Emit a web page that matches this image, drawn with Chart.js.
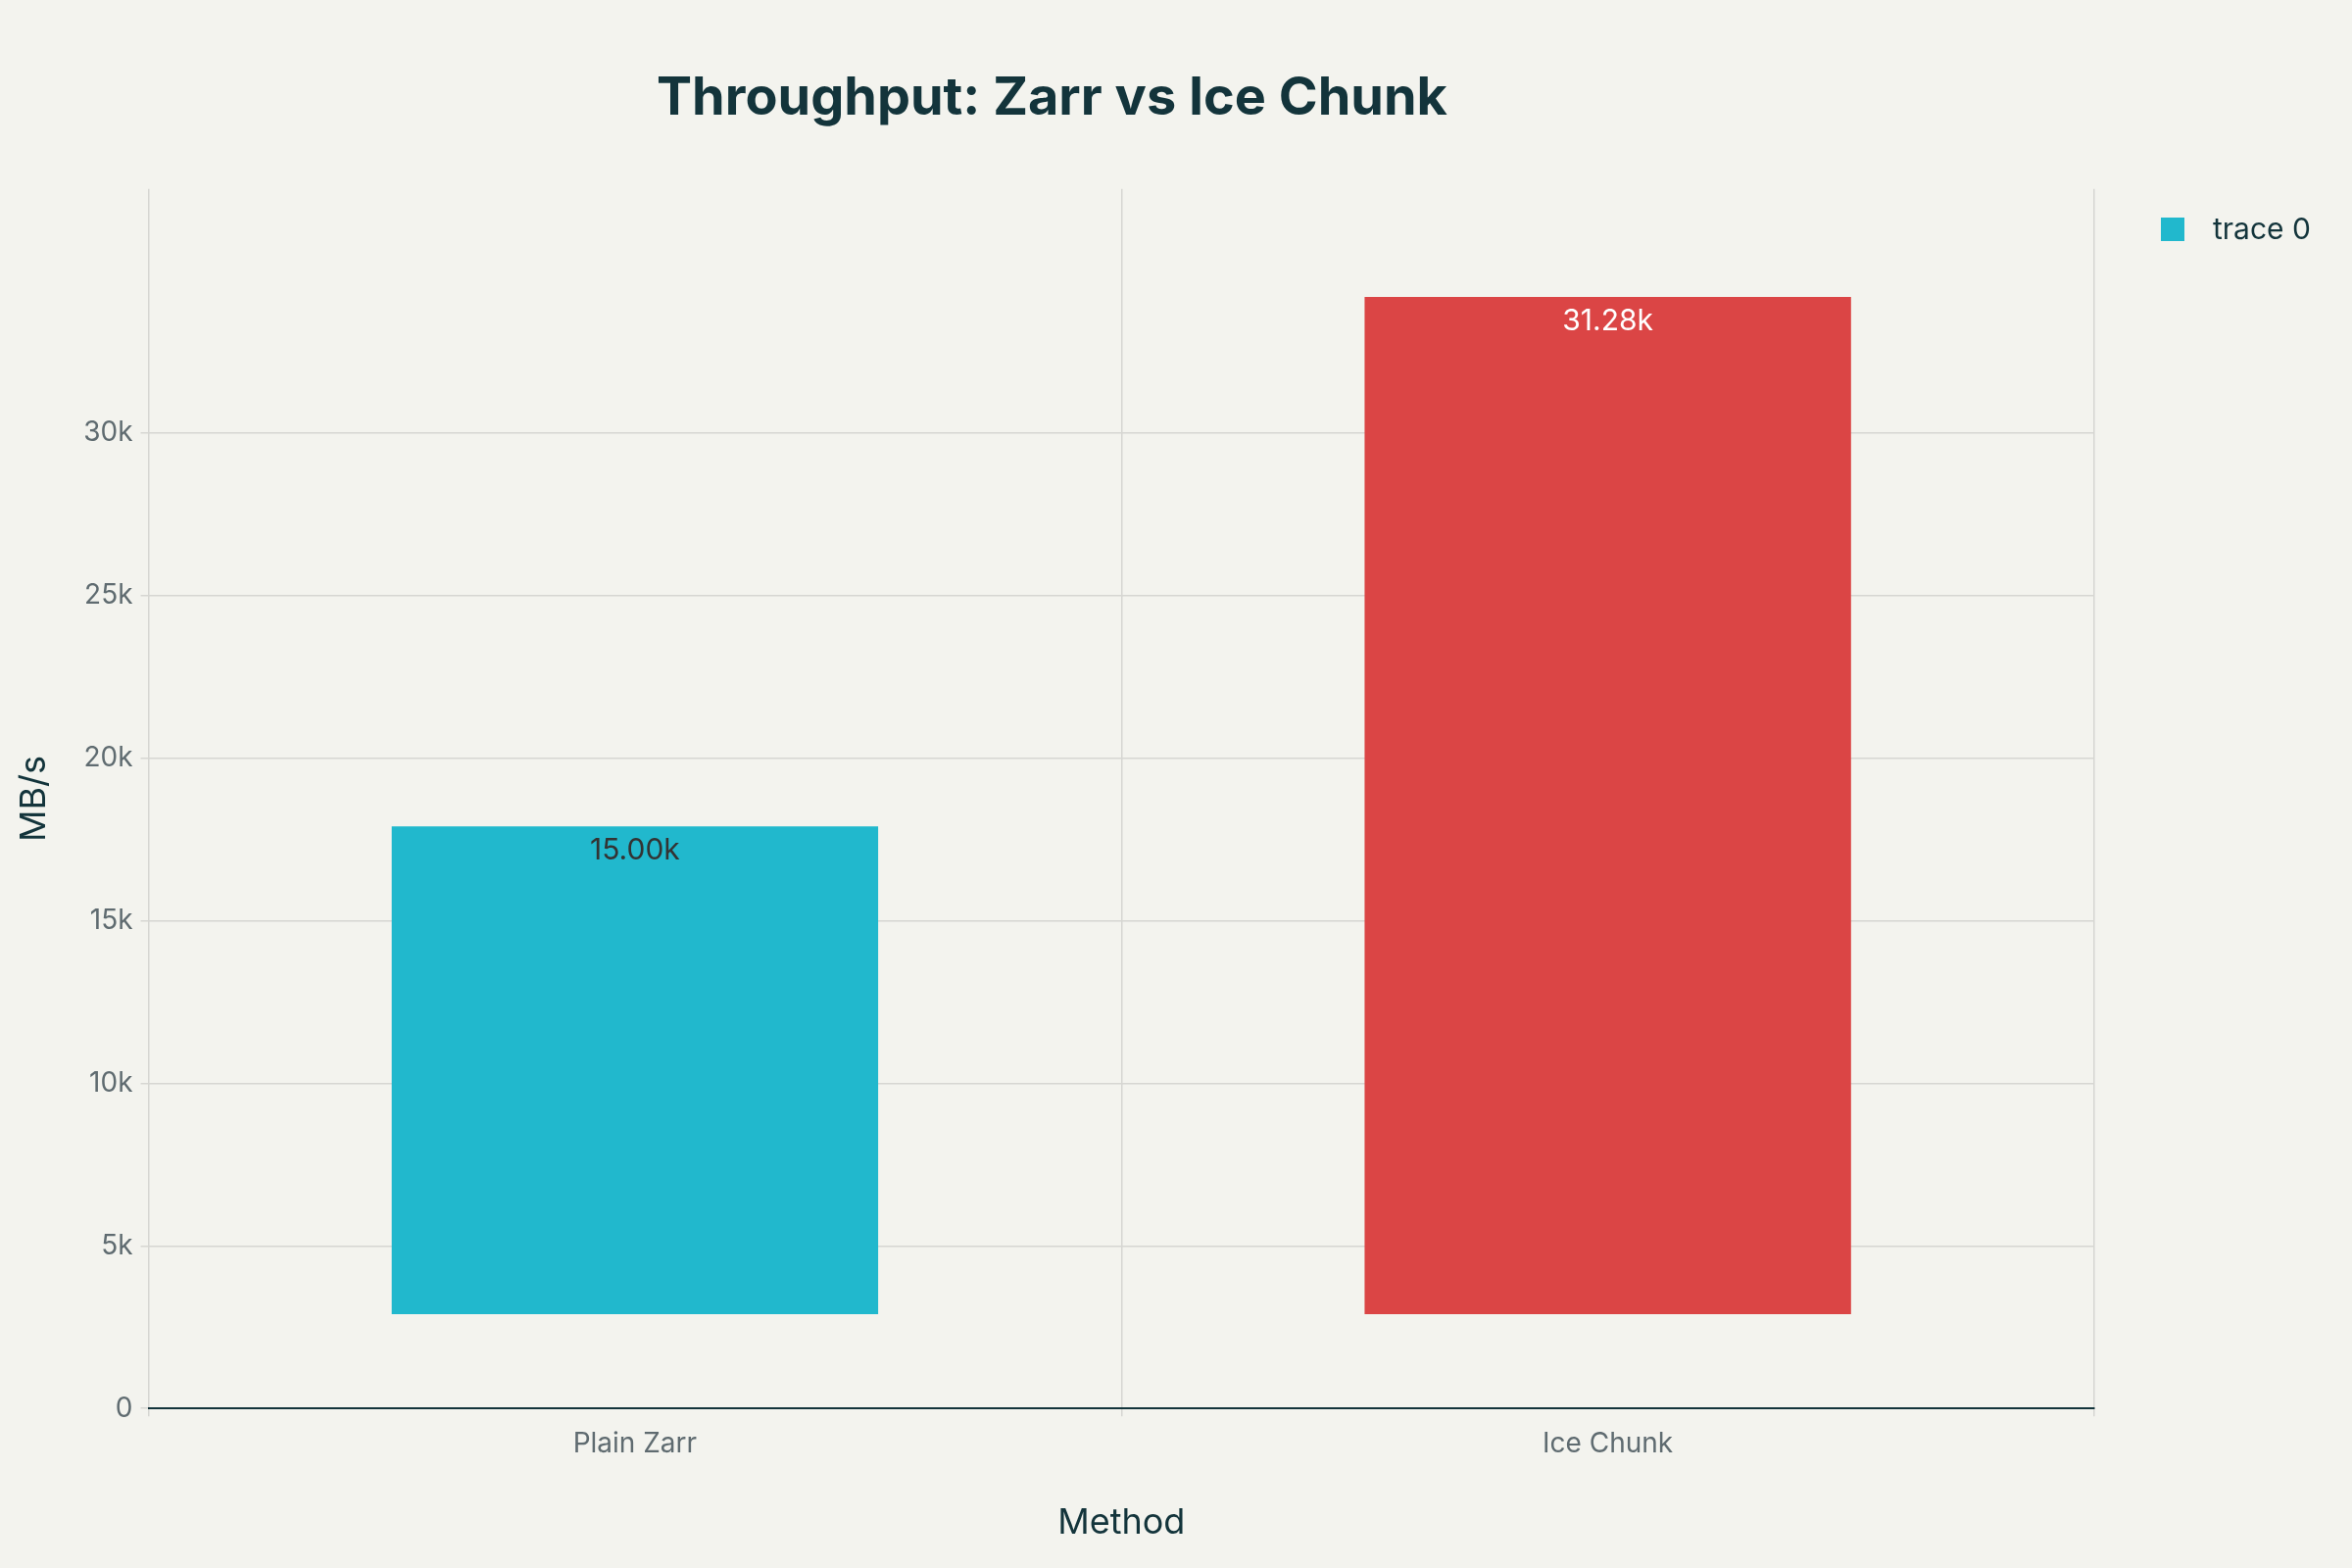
<!DOCTYPE html>
<html><head><meta charset="utf-8">
<script src="https://cdn.jsdelivr.net/npm/chart.js@4"></script>
<style>html,body{margin:0;padding:0;background:#f3f3ee}#w{width:2400px;height:1600px}</style>
</head><body><div id="w"><canvas id="c"></canvas></div>
<script>
const categories = ["Plain Zarr", "Ice Chunk"];
const barBase = [2.9, 2.9];
const barTop = [17.9, 34.18];
const valueLabels = ["15.00k", "31.28k"];
const barColors = ["#21b8cd", "#db4545"];
const labelColors = ["#333333", "#ffffff"];
const yTicks = [0, 5, 10, 15, 20, 25, 30];

const F = "Inter, 'Open Sans', sans-serif";
const labelPlugin = {
  id: 'lbl',
  afterDatasetsDraw(chart) {
    const ctx = chart.ctx, meta = chart.getDatasetMeta(0);
    ctx.save();
    ctx.font = "30px " + F; ctx.textAlign = "center"; ctx.textBaseline = "top";
    meta.data.forEach((b, i) => { ctx.fillStyle = labelColors[i]; ctx.fillText(valueLabels[i], b.x, b.y + 10); });
    // legend
    ctx.fillStyle = barColors[0]; ctx.fillRect(2205, 222, 24, 24);
    ctx.fillStyle = "#13343b"; ctx.textAlign = "left"; ctx.textBaseline = "middle";
    ctx.font = "30px " + F; ctx.fillText("trace 0", 2258, 235);
    ctx.restore();
  }
};
new Chart(document.getElementById('c'), {
  type: 'bar',
  data: { labels: categories, datasets: [{ data: barBase.map((b, i) => [b, barTop[i]]), backgroundColor: barColors, barPercentage: 0.5, categoryPercentage: 1 }] },
  options: {
    responsive: true, maintainAspectRatio: false, animation: false,
    layout: { padding: { left: 10, right: 263, top: 0, bottom: 20 } },
    plugins: {
      legend: { display: false }, tooltip: { enabled: false },
      title: { display: true, text: "Throughput: Zarr vs Ice Chunk", color: "#13343b", font: { family: F, size: 54, weight: 'bold' }, padding: { top: 68, bottom: 60 } }
    },
    scales: {
      x: { grid: { color: "#d6d6d2", lineWidth: 1.5 }, border: { display: true, color: "#13343b", width: 2 },
        ticks: { color: "#5f6b70", font: { family: F, size: 28 }, padding: 12 },
        title: { display: true, text: "Method", color: "#13343b", font: { family: F, size: 36 }, padding: { top: 30 } } },
      y: { min: 0, max: 37.5, grid: { color: "#d6d6d2", lineWidth: 1.5 }, border: { display: false },
        afterBuildTicks: s => { s.ticks = yTicks.map(v => ({ value: v })); },
        ticks: { color: "#5f6b70", font: { family: F, size: 28 }, padding: 8, callback: v => v === 0 ? "0" : v + "k" },
        title: { display: true, text: "MB/s", color: "#13343b", font: { family: F, size: 36 }, padding: { bottom: 20 } } }
    }
  },
  plugins: [labelPlugin]
});
</script></body></html>
